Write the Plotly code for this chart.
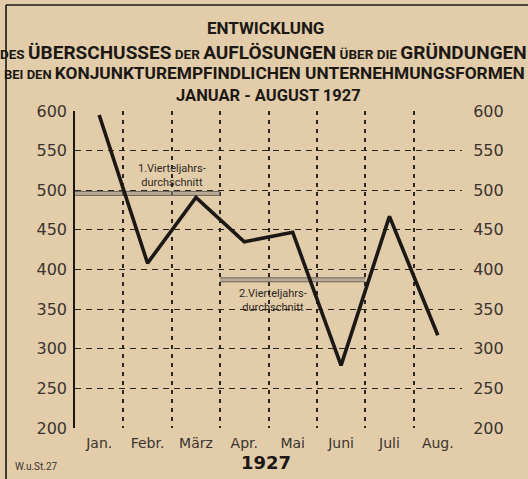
import plotly.graph_objects as go

months = ["Jan.", "Febr.", "März", "Apr.", "Mai", "Juni", "Juli", "Aug."]
values = [595, 408, 491, 435, 447, 279, 467, 317]
quarter_avg = [496, 387]
quarter_span = [(-0.5, 2.5), (2.5, 5.5)]
quarter_labels = ["1.Vierteljahrs-<br>durchschnitt", "2.Vierteljahrs-<br>durchschnitt"]
yticks = [200, 250, 300, 350, 400, 450, 500, 550, 600]

BG = "#E3CCA9"
INK = "#1c1815"
GRID = "#2b2622"
TFONT = "Roboto, Liberation Sans, sans-serif"

x = list(range(len(months)))
fig = go.Figure()

# quarterly average double lines
for (x0, x1), avg in zip(quarter_span, quarter_avg):
    fig.add_trace(go.Scatter(x=[x0, x1], y=[avg - 2.5, avg - 2.5], mode="lines",
                             line=dict(color="#6d655c", width=1), hoverinfo="skip", showlegend=False))
    fig.add_trace(go.Scatter(x=[x0, x1], y=[avg + 2.5, avg + 2.5], mode="lines",
                             line=dict(color="#6d655c", width=1), fill="tonexty",
                             fillcolor="rgba(150,140,128,0.55)", hoverinfo="skip", showlegend=False))

fig.add_trace(go.Scatter(x=x, y=values, mode="lines",
                         line=dict(color=INK, width=3.6), showlegend=False))
# invisible trace for right axis
fig.add_trace(go.Scatter(x=x, y=values, yaxis="y2", mode="lines",
                         line=dict(width=0), opacity=0, hoverinfo="skip", showlegend=False))

fig.update_layout(
    width=528, height=479,
    margin=dict(l=75, r=66, t=111, b=51),
    paper_bgcolor=BG, plot_bgcolor=BG,
    font=dict(family="DejaVu Sans", color="#3a3430"),
    xaxis=dict(range=[-0.5, 7.5], tickvals=x, ticktext=months, showgrid=False,
               zeroline=False, showline=False, ticks="outside", ticklen=2, tickcolor=BG,
               tickfont=dict(size=14, color="#3a3430"),
               minor=dict(tickmode="linear", tick0=0.5, dtick=1, showgrid=True,
                          gridcolor=GRID, griddash="4px,5px", gridwidth=1.6)),
    yaxis=dict(range=[200, 600], tickvals=yticks, showgrid=True, gridcolor=GRID,
               griddash="6px,5px", gridwidth=1.3, zeroline=False,
               showline=True, linecolor=INK, linewidth=1.6,
               ticks="outside", ticklen=3, tickcolor=BG,
               tickfont=dict(size=16, color="#3a3430")),
    yaxis2=dict(range=[200, 600], tickvals=yticks, overlaying="y", side="right",
                showgrid=False, zeroline=False, showline=False,
                ticks="outside", ticklen=7, tickcolor=BG,
                tickfont=dict(size=16, color="#3a3430")),
)

def py(p):
    return (428 - p) / 317.0

def px(p):
    return (p - 75) / 387.0

title_font = dict(family=TFONT, color=INK)
def ann(xp, yp, text, font, xanchor="center"):
    fig.add_annotation(xref="paper", yref="paper", x=px(xp), y=py(yp), text=text,
                       xanchor=xanchor, yanchor="middle", showarrow=False, font=font)

ann(265, 28, "<b>ENTWICKLUNG</b>", dict(size=17, **title_font))
ann(263, 52, "<b><span style='font-size:13.5px'>DES </span>ÜBERSCHUSSES<span style='font-size:13.5px'> DER </span>AUFLÖSUNGEN<span style='font-size:13.5px'> ÜBER DIE </span>GRÜNDUNGEN</b>",
    dict(size=19, **title_font))
ann(264, 73, "<b><span style='font-size:13px'>BEI DEN </span>KONJUNKTUREMPFINDLICHEN UNTERNEHMUNGSFORMEN</b>",
    dict(size=17.3, **title_font))
ann(268, 95, "<b>JANUAR - AUGUST 1927</b>", dict(size=16.5, **title_font))
ann(266, 462, "<b>1927</b>", dict(size=18, family="DejaVu Sans", color=INK))
ann(13, 466, "W.u.St.27", dict(size=10, family=TFONT, color="#3a3430"), xanchor="left")

# average labels
fig.add_annotation(x=1.5, y=518, text=quarter_labels[0], showarrow=False,
                   font=dict(size=11, family=TFONT, color="#2e2925"))
fig.add_annotation(x=3.6, y=361, text=quarter_labels[1], showarrow=False,
                   font=dict(size=11, family=TFONT, color="#2e2925"))

# frame
fig.add_shape(type="line", xref="paper", yref="paper", x0=px(6), x1=px(6), y0=py(5), y1=py(479),
              line=dict(color=INK, width=1.6))
fig.add_shape(type="line", xref="paper", yref="paper", x0=px(6), x1=px(528), y0=py(5), y1=py(5),
              line=dict(color=INK, width=1.6))

fig.write_html("out.html", config={"displayModeBar": False},
               post_script="document.body.style.margin='0';document.body.style.background='%s';" % BG)
